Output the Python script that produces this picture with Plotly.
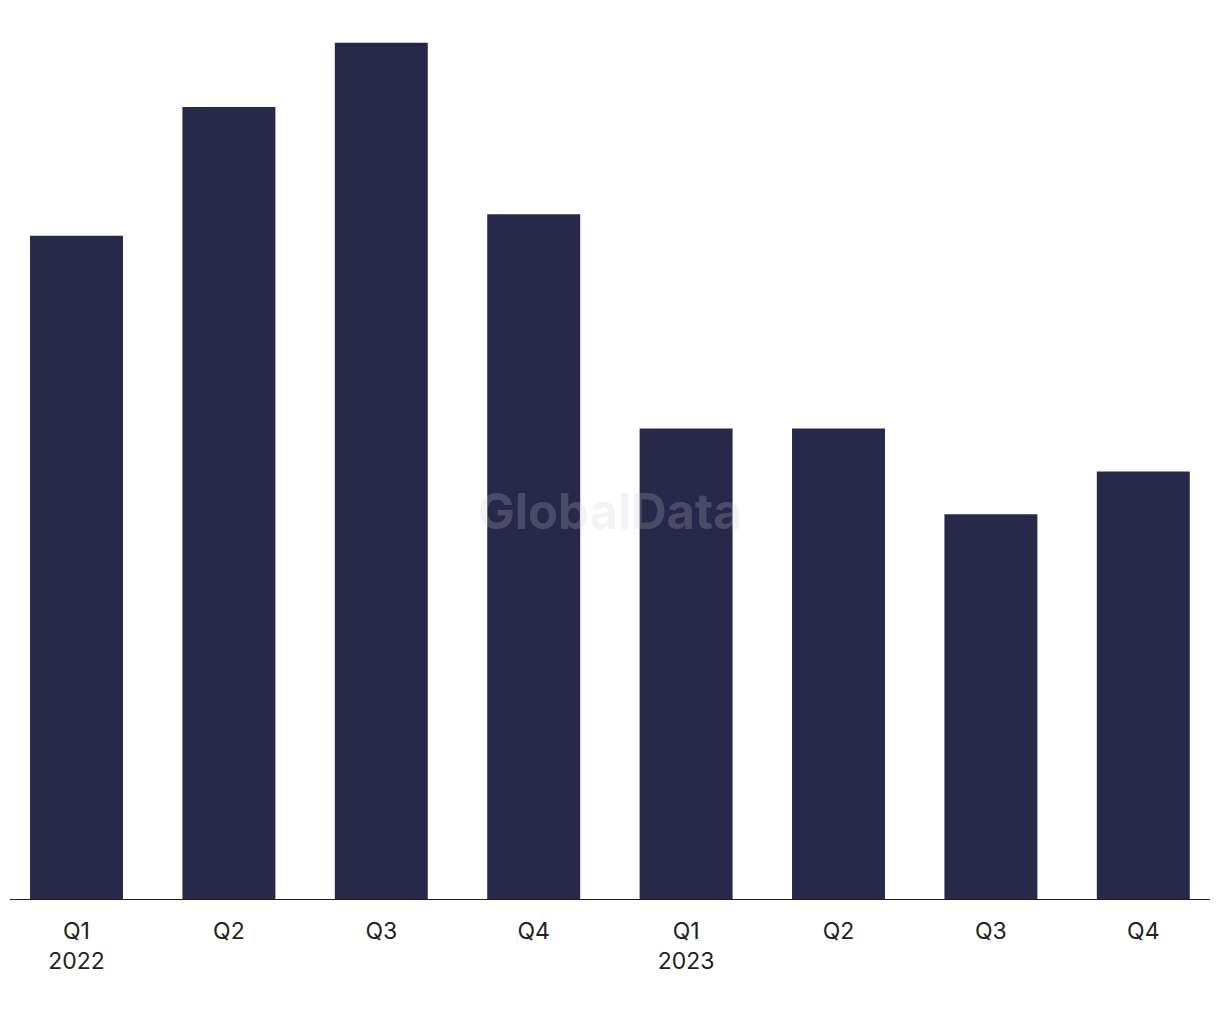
import plotly.graph_objects as go

BAR = "#28284a"
AXIS = "#1c1c2c"
TEXT = "#222222"

quarters = ["Q1", "Q2", "Q3", "Q4", "Q1", "Q2", "Q3", "Q4"]
years = ["2022", "", "", "", "2023", "", "", ""]
values = [31, 37, 40, 32, 22, 22, 18, 20]

labels = [f"{q}<br>{y}" if y else q for q, y in zip(quarters, years)]
xs = list(range(len(values)))

# page has an 8px body margin, so positions are in figure pixels
W, H = 1220, 1020
PLOT_H = 892
STEP = 152.4  # px per category

fig = go.Figure(go.Bar(
    x=xs, y=values,
    marker=dict(color=BAR, line=dict(width=0)),
    showlegend=False,
    hoverinfo="y",
))

# baseline
fig.add_shape(type="line", xref="paper", yref="y",
              x0=2 / W, x1=1202 / W, y0=0, y1=0,
              line=dict(color=AXIS, width=2))

fig.add_annotation(
    text="<b>GlobalData</b>", xref="paper", yref="paper",
    x=602 / W, y=1 - 504 / PLOT_H, showarrow=False,
    font=dict(size=49, color="rgba(200,200,210,0.22)", family="Inter, Arial, sans-serif"),
)

x0 = -68.5 / STEP
fig.update_layout(
    width=W, height=H,
    paper_bgcolor="white", plot_bgcolor="white",
    bargap=0.39,
    margin=dict(t=0, b=H - PLOT_H, l=0, r=0),
    font=dict(family="Inter, Liberation Sans, Arial, sans-serif", color=TEXT, size=23),
    xaxis=dict(
        tickvals=xs, ticktext=labels,
        range=[x0, x0 + W / STEP],
        showgrid=False, zeroline=False, showline=False,
        ticks="", ticklabelstandoff=15,
        tickfont=dict(size=23, color=TEXT),
    ),
    yaxis=dict(
        range=[0, PLOT_H / 21.43], visible=False, showgrid=False, zeroline=False,
    ),
)

fig.write_html("out.html")
